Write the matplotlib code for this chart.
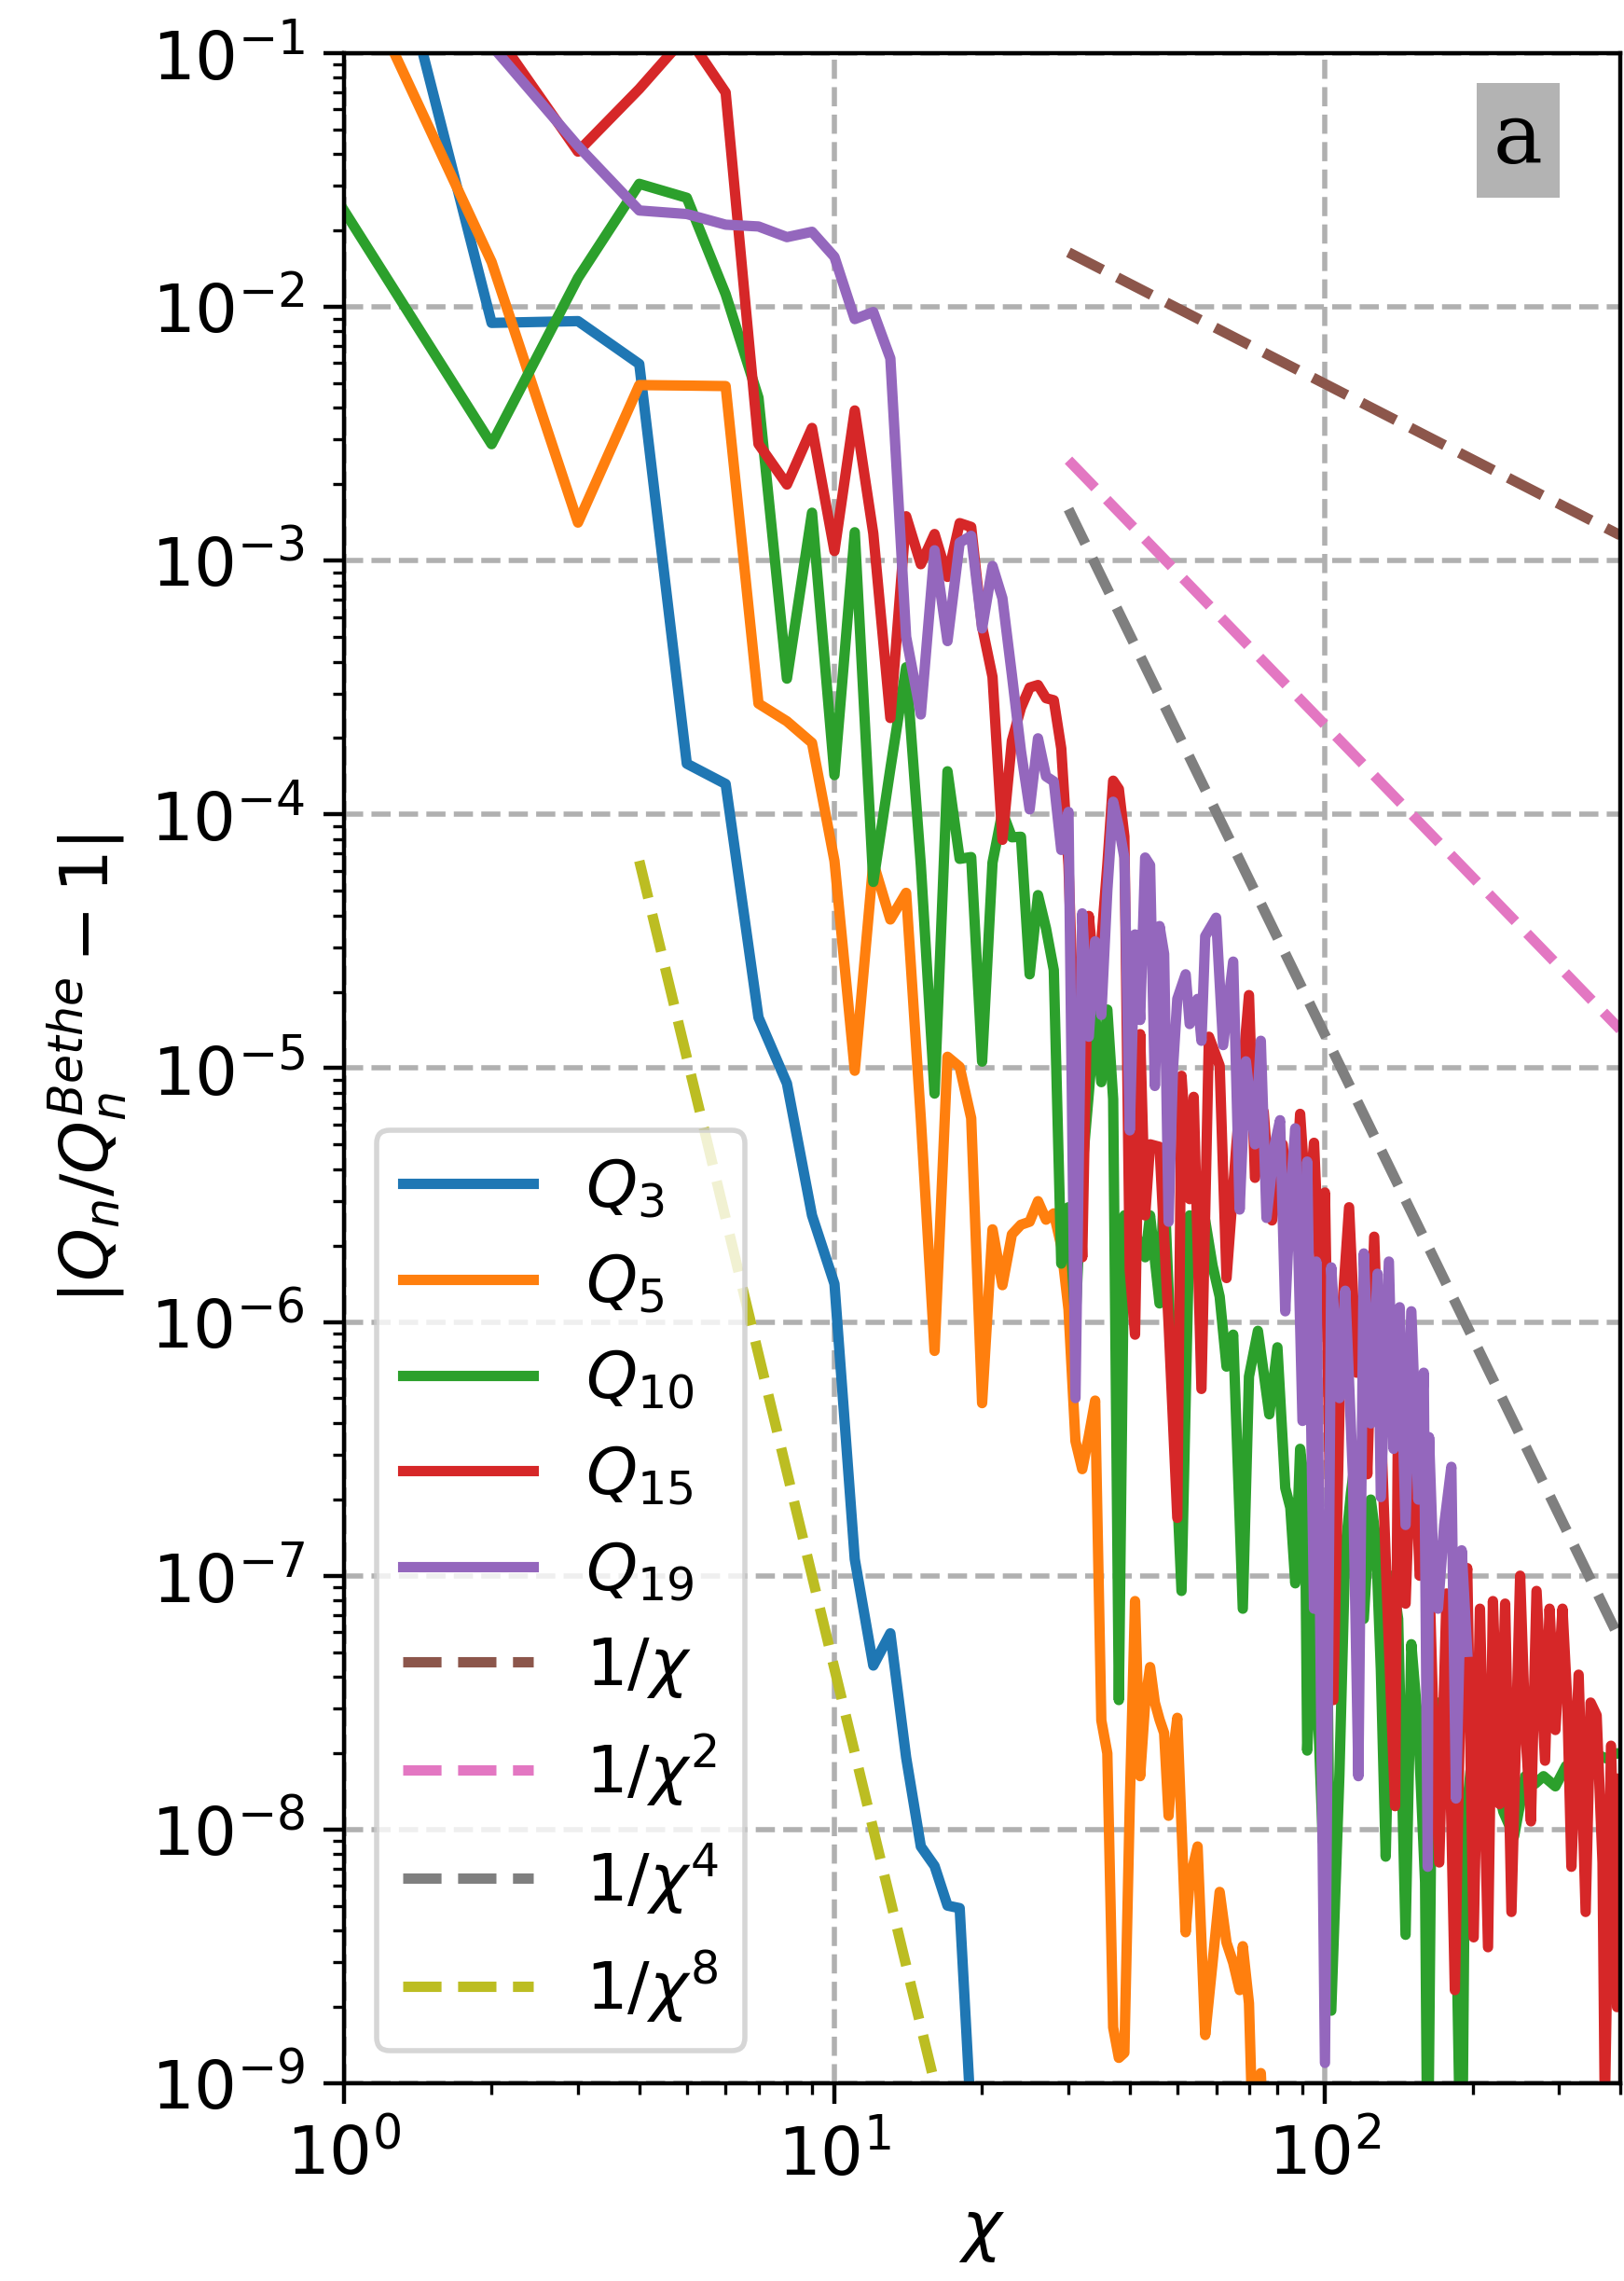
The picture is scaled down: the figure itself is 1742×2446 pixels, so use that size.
import numpy as np
import matplotlib
matplotlib.use("Agg")
import matplotlib.pyplot as plt

# values, stored as log10 of |Q_n/Q_n^Bethe - 1|
chi_q3 = list(range(1, 21))
log_q3 = [0.22, -2.063, -2.056, -2.225, -3.80, -3.88, -4.80, -5.06, -5.58, -5.85,
          -6.935, -7.354, -7.227, -7.716, -8.067, -8.144, -8.30, -8.31, -9.15, -9.6]

chi_q5 = list(range(1, 51)) + [52, 53, 55, 57, 59, 61, 63, 65, 67, 68, 70, 71, 72,
                               74, 75, 78]
log_q5 = [-0.574, -1.823, -2.85, -2.308, -2.31, -2.312, -3.563, -3.633, -3.718, -4.183,
          -5.01, -4.19, -4.414, -4.309, -5.2, -6.114, -4.955, -4.995, -5.197, -6.32,
          -5.635, -5.855, -5.655, -5.617, -5.605, -5.524, -5.597, -5.572, -5.7, -5.95,
          -6.47, -6.58, -6.45, -6.31, -7.57, -7.70, -8.78, -8.90, -8.88, -7.9,
          -7.10, -7.79, -7.5, -7.36, -7.5, -7.567, -7.62, -7.946, -7.7, -7.56,
          -8.405, -8.2, -8.067, -8.81, -8.525, -8.246, -8.446, -8.525, -8.633, -8.46,
          -8.685, -9.1, -9.05, -8.96, -9.2, -9.6]

chi_q10 = list(range(1, 42)) + [43, 44, 46, 47, 49, 51, 53, 55, 57, 59, 61, 63, 65,
                                68, 70, 73, 75, 77, 80, 83, 85, 87, 89, 91, 92, 95,
                                99, 101, 103, 107, 110, 113, 116, 120, 124, 127, 130,
                                133, 137, 141, 146, 150, 155, 160, 162, 165, 170, 176,
                                183, 190, 193, 198, 205, 215, 223, 231, 243, 256, 268,
                                279, 295, 310, 330, 353, 375, 392, 400]
log_q10 = [-1.62, -2.541, -1.886, -1.515, -1.57, -1.95, -2.358, -3.465, -2.811, -3.845,
           -2.888, -4.266, -3.82, -3.42, -4.2, -5.1, -3.83, -4.175, -4.168, -4.974,
           -4.19, -3.99, -4.09, -4.088, -4.63, -4.318, -4.45, -4.613, -5.77, -5.548,
           -6.0, -5.4, -5.1, -4.79, -5.055, -4.769, -5.122, -7.49, -5.58, -5.6,
           -5.65, -5.745, -5.58, -5.927, -5.45, -6.3, -7.06, -5.58, -5.65, -5.6,
           -5.778, -5.9, -6.176, -6.05, -7.13, -6.215, -6.035, -6.2, -6.364, -6.1,
           -6.654, -6.732, -7.03, -6.5, -6.654, -7.689, -7.13, -8.047, -7.2, -8.714,
           -7.788, -6.9, -6.673, -6.5, -7.17, -6.7, -6.855, -7.37, -8.107, -7.0,
           -7.17, -8.415, -7.27, -7.6, -8.207, -9.5, -7.8, -7.5, -7.707, -7.8,
           -9.6, -8.0, -7.77, -7.85, -7.77, -7.8, -7.93, -8.027, -7.79, -7.82,
           -7.79, -7.83, -7.75, -7.72, -7.7, -7.72, -7.7, -7.7]

chi_q15 = list(range(1, 45)) + [46, 48, 50, 51, 53, 54, 56, 58, 61, 63, 66, 70, 72,
                                75, 78, 82, 86, 89, 92, 95, 98, 100, 104, 108, 112,
                                116, 119, 122, 126, 130, 134, 139, 141, 146, 151, 156,
                                161, 166, 171, 177, 184, 190, 195, 201, 207, 215, 220,
                                227, 233, 240, 250, 256, 263, 270, 281, 287, 295, 305,
                                312, 318, 329, 340, 348, 358, 368, 372, 383, 394, 400]
log_q15 = [-0.5, -0.9, -1.388, -1.141, -0.929, -1.155, -2.54, -2.70, -2.477, -2.962,
           -2.408, -2.893, -3.62, -2.825, -3.014, -2.895, -3.064, -2.852, -2.867, -3.26,
           -3.458, -4.1, -3.71, -3.58, -3.50, -3.49, -3.542, -3.55, -3.74, -4.2,
           -5.02, -5.745, -4.4, -4.66, -4.5, -4.2, -3.867, -3.90, -4.087, -5.795,
           -6.05, -4.866, -5.58, -5.3, -5.31, -6.008, -6.772, -5.03, -5.516, -5.113,
           -6.264, -4.876, -4.99, -5.827, -5.3, -4.712, -5.432, -5.171, -5.6, -5.3,
           -5.7, -5.18, -5.6, -5.294, -5.9, -5.49, -7.49, -6.0, -5.548, -6.2,
           -5.924, -6.6, -5.664, -6.4, -7.11, -7.908, -6.274, -7.11, -6.294, -7.0,
           -6.6, -7.5, -8.13, -7.07, -8.633, -7.2, -6.97, -8.425, -7.13, -8.464,
           -7.10, -7.9, -7.11, -8.325, -7.0, -7.6, -7.968, -7.06, -7.729, -7.13,
           -7.608, -7.13, -7.5, -8.147, -7.39, -8.325, -7.5, -7.55, -8.13, -9.1,
           -7.67, -8.70, -7.8]

chi_q19 = list(range(1, 51)) + [52, 53, 55, 56, 57, 60, 62, 65, 67, 69, 72, 74, 76,
                                79, 81, 83, 85, 87, 90, 92, 95, 96, 100, 103, 107,
                                110, 114, 117, 120, 124, 128, 130, 135, 138, 142, 146,
                                150, 155, 159, 162, 163, 166, 170, 175, 181, 185, 190,
                                195]
log_q19 = [-0.5, -0.97, -1.366, -1.62, -1.634, -1.676, -1.683, -1.725, -1.704, -1.803,
           -2.048, -2.02, -2.203, -3.3, -3.606, -2.959, -3.317, -2.929, -2.902, -3.267,
           -3.021, -3.148, -3.45, -3.75, -3.98, -3.70, -3.85, -3.87, -4.14, -3.99,
           -6.30, -4.39, -4.876, -4.50, -4.79, -4.3, -3.95, -4.05, -4.17, -5.245,
           -4.473, -4.81, -4.17, -4.2, -5.07, -4.44, -4.55, -5.605, -5.0, -4.727,
           -4.63, -4.826, -4.727, -4.892, -4.48, -4.407, -4.909, -4.58, -5.557, -4.973,
           -5.3, -4.892, -5.59, -5.3, -5.205, -5.958, -5.5, -5.237, -6.39, -5.368,
           -7.13, -5.762, -8.92, -5.785, -6.3, -5.877, -6.6, -7.79, -5.73, -6.4,
           -5.81, -6.69, -5.762, -6.5, -5.942, -6.8, -5.958, -6.7, -6.2, -8.147,
           -6.454, -6.9, -7.13, -6.8, -6.571, -7.878, -6.9, -7.3]

# guide lines: end points (log-log straight lines)
ref_chi = [30, 400]
ref_chi8 = [4, 20]
log_ref1 = [-1.785, -2.90]
log_ref2 = [-2.604, -4.848]
log_ref4 = [-2.797, -7.255]
log_ref8 = [-4.183, -9.775]

plt.rcParams['font.size'] = 13
plt.rcParams['lines.linewidth'] = 2.0
plt.rcParams['xtick.major.size'] = 4.0
plt.rcParams['ytick.major.size'] = 4.0
plt.rcParams['xtick.minor.size'] = 2.2
plt.rcParams['ytick.minor.size'] = 2.2

fig = plt.figure(figsize=(4.355, 6.115), dpi=400)
ax = fig.add_axes([0.2118, 0.0867, 0.7859, 0.8900])

series = [(chi_q3, log_q3, r'$Q_3$'),
          (chi_q5, log_q5, r'$Q_5$'),
          (chi_q10, log_q10, r'$Q_{10}$'),
          (chi_q15, log_q15, r'$Q_{15}$'),
          (chi_q19, log_q19, r'$Q_{19}$')]
for chi, vals, lab in series:
    ax.plot(chi, 10.0 ** np.array(vals), '-', label=lab)

ax.plot(ref_chi, 10.0 ** np.array(log_ref1), '--', label=r'$1/\chi$')
ax.plot(ref_chi, 10.0 ** np.array(log_ref2), '--', label=r'$1/\chi^2$')
ax.plot(ref_chi, 10.0 ** np.array(log_ref4), '--', label=r'$1/\chi^4$')
ax.plot(ref_chi8, 10.0 ** np.array(log_ref8), '--', label=r'$1/\chi^8$')

ax.set_xscale('log')
ax.set_yscale('log')
ax.set_xlim(1, 400)
ax.set_ylim(1e-9, 1e-1)
ax.grid(True, which='major', linestyle='--', color='#b0b0b0', linewidth=1.0)

ax.set_xlabel(r'$\chi$', labelpad=2)
ax.set_ylabel(r'$|Q_n/Q_n^{Bethe}-1|$')

ax.legend(loc='lower left', handlelength=2.0, fontsize=12.6)

ax.text(0.92, 0.957, 'a', transform=ax.transAxes, family='DejaVu Serif',
        fontsize=16, ha='center', va='center',
        bbox=dict(boxstyle='square,pad=0.2', facecolor='#b3b3b3', edgecolor='none'))

fig.savefig('out.png', dpi=400)
